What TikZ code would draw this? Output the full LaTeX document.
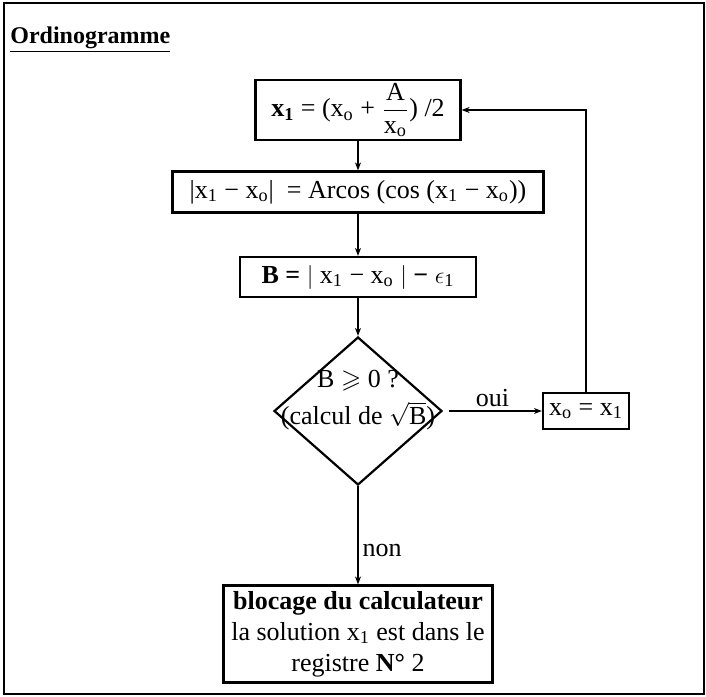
\documentclass[tikz,border=0pt]{standalone}
\usepackage{amssymb}
\usepackage{fontspec}
\setmainfont{Liberation Serif}
\usetikzlibrary{shapes.geometric,arrows.meta}
\newcommand{\ind}[1]{\textsubscript{#1}}

\begin{document}
\begin{tikzpicture}[x=0.5pt, y=-0.5pt,
      font=\fontsize{13}{15.5}\selectfont,
      boite/.style={draw, line width=1.1pt, align=center, inner sep=1pt},
      losange/.style={draw, diamond, line width=1.1pt, minimum width=84pt,
                      minimum height=74pt, inner sep=0pt},
      fleche/.style={-{Stealth[length=4pt,width=3pt]}, line width=0.7pt},
      etiq/.style={inner sep=2pt}]
    \useasboundingbox (0,0) rectangle (706,696);
    \draw[line width=1.2pt] (4,3) rectangle (704,694);
    \node[anchor=west, inner sep=0pt, font=\fontsize{12}{14}\selectfont\bfseries] (titre) at (10,40) {\underline{Ordinogramme}};
    \node[boite, minimum width=102.5pt, minimum height=30pt] (b1) at (358,110)
      {\textbf{x\ind{1}} = (x\ind{o} + $\displaystyle\frac{\mbox{A}}{\mbox{x\ind{o}}}$) /2};
    \node[boite, minimum width=185.5pt, minimum height=20.5pt] (b2) at (358,192)
      {|x\ind{1} − x\ind{o}|\ \ = Arcos (cos (x\ind{1} − x\ind{o}))};
    \node[boite, minimum width=118pt, minimum height=20pt] (b3) at (358,277)
      {\textbf{B =} $\big|$ x\ind{1} − x\ind{o} $\big|$ \textbf{−} $\epsilon$\ind{1}};
    \node[losange] (dia) at (358,411) {};
    \node[align=center, inner sep=0pt] (dtexte) at (358,400) {B $\geqslant$ 0 ?\\[3pt](calcul de $\sqrt{\mbox{B}}$)};
    \node[boite, minimum width=43pt, minimum height=18pt] (b5) at (586,411) {x\ind{o} = x\ind{1}};
    \node[boite, minimum width=134.5pt, minimum height=48.5pt] (b4) at (358,634)
      {\textbf{blocage du calculateur}\\la solution x\ind{1} est dans le\\registre \textbf{N°} 2};
    \draw[fleche] (b1) -- (b2);
    \draw[fleche] (b2) -- (b3);
    \draw[fleche] (b3) -- (dia);
    \draw[fleche, shorten <=3pt] (dia) -- (b5) node[etiq, midway, above] (oui) {oui};
    \draw[fleche] (dia) -- (b4) node[etiq, pos=0.66, right] (non) {non};
    \draw[fleche] (b5) |- (b1);
  \end{tikzpicture}
\end{document}
